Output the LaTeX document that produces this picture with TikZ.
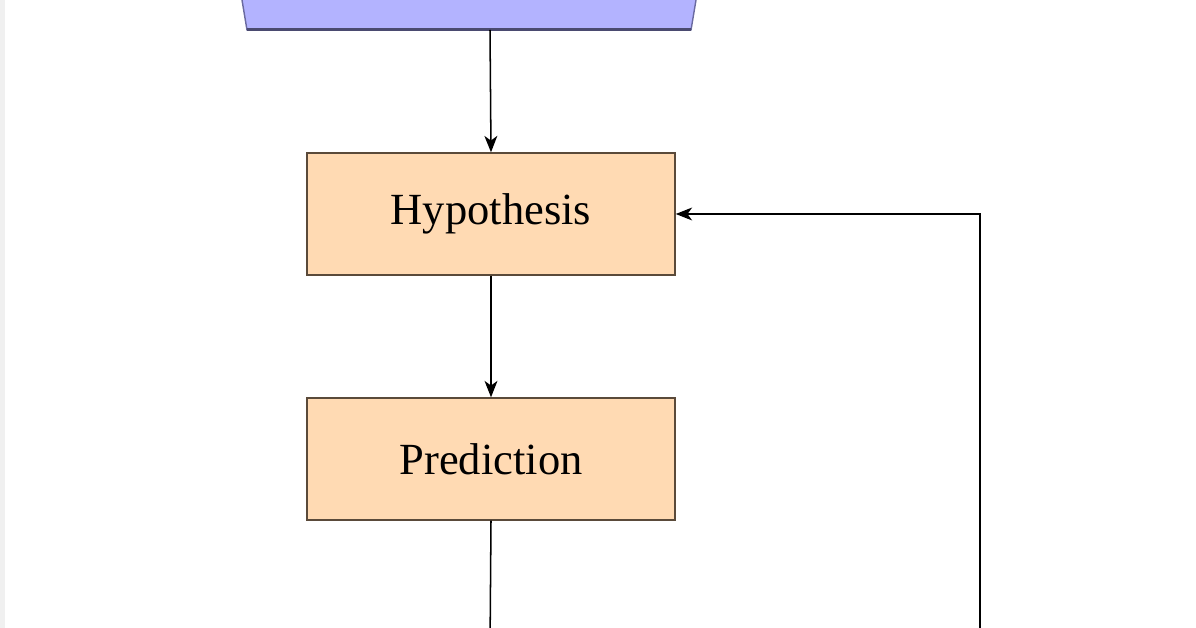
\documentclass[tikz,border=0pt]{standalone}
\usepackage{fontspec}
\setmainfont{Liberation Serif}
\usetikzlibrary{arrows.meta}
\definecolor{boxfill}{HTML}{FFDAB3}
\definecolor{boxdraw}{HTML}{5A4A3A}
\definecolor{parfill}{HTML}{B3B3FF}
\definecolor{pardraw}{HTML}{6A6AA0}
\tikzset{
  box/.style={draw=boxdraw, line width=1.2pt, fill=boxfill, minimum width=11.04cm, minimum height=3.66cm, inner sep=0pt, font=\fontsize{38}{42}\selectfont},
  conn/.style={draw=black, line width=1.3pt, -{Stealth[length=14pt,width=11pt,inset=4pt]}},
  line/.style={draw=black, line width=1.3pt}
}
\begin{document}
\begin{tikzpicture}[x=0.03cm,y=-0.03cm]
\useasboundingbox (0,0) rectangle (1196,628);
\fill[white] (0,0) rectangle (1196,628);
\fill[black!6] (0,0) rectangle (5,628);
\clip (0,0) rectangle (1196,628);
\filldraw[fill=parfill, draw=pardraw, line width=1.2pt] (237,-30) -- (247,30) -- (691,30) -- (701,-30) -- cycle;
\draw[pardraw!70!black, line width=2.2pt] (247,29.5) -- (691,29.5);
\coordinate (par) at (490,30);
\node[box] (hyp) at (491,214) {Hypothesis};
\node[box] (pred) at (491,459) {Prediction};
\coordinate (below) at (490,650);
\coordinate (fb) at (980,660);
\draw[conn] (par) -- (hyp.north);
\draw[conn] (hyp.south) -- (pred.north);
\draw[conn] (pred.south) -- (below);
\draw[conn] (fb) |- (hyp.east);
\end{tikzpicture}
\end{document}
